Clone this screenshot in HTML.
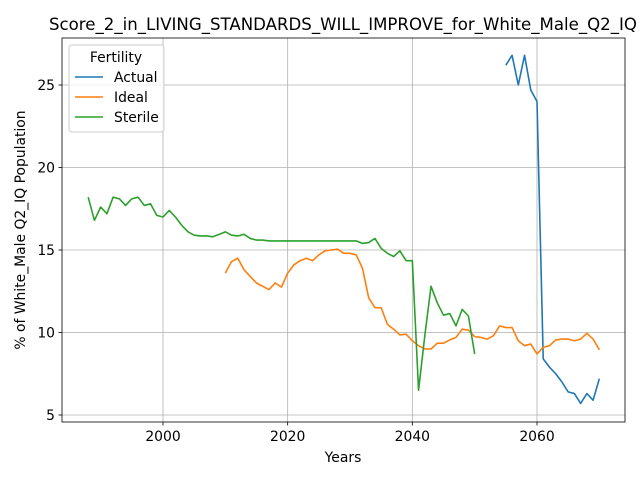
<!DOCTYPE html>
<html><head><meta charset="utf-8"><style>
body{margin:0;background:#fff;font-family:"Liberation Sans",sans-serif}
svg text{font-family:"DejaVu Sans","Liberation Sans",sans-serif}
</style></head><body>
<svg id="c" width="640" height="480"></svg>
<script>
const actualYears=[2055,2056,2057,2058,2059,2060,2061,2062,2063,2064,2065,2066,2067,2068,2069,2070];
const actualVals=[26.2,26.8,25.0,26.8,24.7,24.0,8.4,7.9,7.5,7.0,6.4,6.3,5.7,6.3,5.9,7.2];
const sterileStart=1988;
const sterileVals=[18.2,16.8,17.6,17.2,18.2,18.1,17.7,18.1,18.2,17.7,17.8,17.1,17.0,17.4,17.0,16.5,16.1,15.9,15.85,15.85,15.8,15.95,16.1,15.9,15.85,15.95,15.7,15.6,15.6,15.55,15.55,15.55,15.55,15.55,15.55,15.55,15.55,15.55,15.55,15.55,15.55,15.55,15.55,15.55,15.4,15.45,15.7,15.1,14.8,14.6,14.95,14.35,14.35,6.5,9.8,12.8,11.8,11.05,11.15,10.4,11.4,11.0,8.7];
const idealStart=2010;
const idealVals=[13.6,14.3,14.5,13.8,13.4,13.0,12.8,12.6,13.0,12.75,13.6,14.1,14.35,14.5,14.35,14.7,14.95,15.0,15.05,14.8,14.8,14.7,13.9,12.1,11.5,11.5,10.5,10.2,9.85,9.9,9.5,9.2,9.0,9.0,9.35,9.35,9.55,9.7,10.2,10.15,9.75,9.7,9.6,9.8,10.4,10.3,10.3,9.5,9.2,9.3,8.7,9.1,9.2,9.55,9.6,9.6,9.5,9.6,9.95,9.6,8.95];
const xTicks=[2000,2020,2040,2060];
const yTicks=[5,10,15,20,25];
const L=62,R=625,T=38,B=422;
const X=v=>163+(v-2000)*(374/60);
const Y=v=>85+(25-v)*16.5;
const NS='http://www.w3.org/2000/svg';
const svg=document.getElementById('c');
function mk(t,a,txt){const e=document.createElementNS(NS,t);for(const k in a)e.setAttribute(k,a[k]);if(txt!==undefined)e.textContent=txt;svg.appendChild(e);return e;}
xTicks.forEach(v=>{
const g=mk('line',{x1:X(v),x2:X(v),y1:T,y2:B,stroke:'#b0b0b0','stroke-width':0.8});


mk('line',{x1:X(v),x2:X(v),y1:B,y2:B+3.5,stroke:'#000','stroke-width':0.8});
const t=mk('text',{x:X(v),y:B+19,'font-size':13.9,'text-anchor':'middle'},v);


});
yTicks.forEach(v=>{
const g=mk('line',{x1:L,x2:R,y1:Y(v),y2:Y(v),stroke:'#b0b0b0','stroke-width':0.8});


mk('line',{x1:L-3.5,x2:L,y1:Y(v),y2:Y(v),stroke:'#000','stroke-width':0.8});
const t=mk('text',{x:L-7,y:Y(v)+5,'font-size':13.9,'text-anchor':'end'},v);


});
function line(xs,ys,col,name){
const p=mk('polyline',{points:xs.map((x,i)=>X(x)+','+Y(ys[i])).join(' '),fill:'none',stroke:col,'stroke-width':1.6,'stroke-linejoin':'round'});


}
line(actualYears,actualVals,'#1f77b4','actual-line');
line(idealVals.map((_,i)=>idealStart+i),idealVals,'#ff7f0e','ideal-line');
line(sterileVals.map((_,i)=>sterileStart+i),sterileVals,'#2ca02c','sterile-line');
const f=mk('rect',{x:L,y:T,width:R-L,height:B-T,fill:'none',stroke:'#000','stroke-width':0.8});


const ti=mk('text',{x:343,y:30,'font-size':16.6,'text-anchor':'middle'},'Score_2_in_LIVING_STANDARDS_WILL_IMPROVE_for_White_Male_Q2_IQ');


const xt=mk('text',{x:343,y:462,'font-size':13.9,'text-anchor':'middle'},'Years');


const yt=mk('text',{x:25,y:230,'font-size':13.9,'text-anchor':'middle',transform:'rotate(-90 25 230)'},'% of White_Male Q2_IQ Population');


const lg=mk('rect',{x:69,y:45,width:95,height:87,rx:3,fill:'#fff','fill-opacity':0.8,stroke:'#ccc'});


mk('text',{x:116,y:62,'font-size':13.9,'text-anchor':'middle'},'Fertility');
[['Actual','#1f77b4'],['Ideal','#ff7f0e'],['Sterile','#2ca02c']].forEach((d,i)=>{
const y=77+i*20;
mk('line',{x1:75,x2:103,y1:y,y2:y,stroke:d[1],'stroke-width':1.6});
const t=mk('text',{x:114,y:y+5,'font-size':13.9},d[0]);


});
</script>
</body></html>
